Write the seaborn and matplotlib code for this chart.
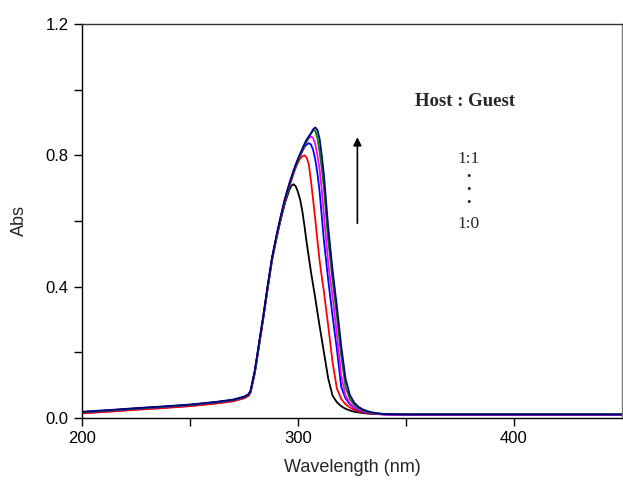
import matplotlib
matplotlib.use("Agg")
import matplotlib.pyplot as plt
from matplotlib.ticker import FixedLocator, FormatStrFormatter
import seaborn as sns
import pandas as pd

# wavelength grid (nm) shared by all spectra
wavelength = [200, 212, 225, 237, 250, 262, 270, 275, 277, 278, 280, 282, 284, 286, 288,
              290, 292, 294, 296, 297, 298, 299, 300, 301, 302, 303, 304, 305, 306, 307, 308,
              309, 310, 311, 312, 314, 316, 318, 320, 322, 324, 326, 328, 330, 333, 336, 340,
              350, 400, 450]

# absorbance, host:guest 1:0 -> 1:1
abs_black = [0.015, 0.020, 0.026, 0.031, 0.037, 0.045, 0.052, 0.061, 0.068, 0.078, 0.140, 0.225,
             0.310, 0.400, 0.485, 0.550, 0.605, 0.655, 0.695, 0.708, 0.712, 0.705, 0.688, 0.665,
             0.630, 0.585, 0.535, 0.490, 0.445, 0.405, 0.365, 0.322, 0.280, 0.240, 0.200, 0.120,
             0.068, 0.048, 0.036, 0.028, 0.023, 0.019, 0.017, 0.015, 0.013, 0.012, 0.011, 0.010,
             0.010, 0.010]
abs_red = [0.014, 0.019, 0.025, 0.030, 0.036, 0.044, 0.051, 0.060, 0.067, 0.077, 0.135, 0.220,
           0.305, 0.395, 0.480, 0.545, 0.605, 0.660, 0.705, 0.725, 0.745, 0.763, 0.778, 0.790,
           0.797, 0.800, 0.793, 0.772, 0.722, 0.665, 0.605, 0.540, 0.480, 0.430, 0.385, 0.280,
           0.170, 0.090, 0.058, 0.042, 0.032, 0.025, 0.020, 0.017, 0.014, 0.012, 0.011, 0.010,
           0.010, 0.010]
abs_blue = [0.017, 0.022, 0.028, 0.033, 0.039, 0.047, 0.054, 0.063, 0.070, 0.080, 0.140, 0.225,
            0.310, 0.400, 0.485, 0.550, 0.610, 0.665, 0.710, 0.730, 0.750, 0.768, 0.785, 0.800,
            0.812, 0.825, 0.833, 0.837, 0.833, 0.817, 0.787, 0.745, 0.690, 0.615, 0.540, 0.420,
            0.310, 0.210, 0.095, 0.060, 0.042, 0.031, 0.024, 0.019, 0.015, 0.013, 0.011, 0.010,
            0.010, 0.010]
abs_magenta = [0.018, 0.023, 0.029, 0.034, 0.040, 0.048, 0.055, 0.064, 0.071, 0.081, 0.140, 0.225,
               0.310, 0.400, 0.485, 0.550, 0.610, 0.665, 0.710, 0.730, 0.750, 0.768, 0.785, 0.800,
               0.815, 0.830, 0.842, 0.852, 0.857, 0.853, 0.834, 0.800, 0.758, 0.695, 0.620, 0.470,
               0.370, 0.255, 0.130, 0.068, 0.045, 0.033, 0.026, 0.021, 0.016, 0.013, 0.011, 0.010,
               0.010, 0.010]
abs_green = [0.018, 0.023, 0.029, 0.034, 0.040, 0.048, 0.055, 0.064, 0.071, 0.081, 0.140, 0.225,
             0.310, 0.400, 0.485, 0.550, 0.610, 0.665, 0.710, 0.730, 0.750, 0.768, 0.785, 0.800,
             0.815, 0.830, 0.843, 0.855, 0.866, 0.876, 0.875, 0.852, 0.812, 0.760, 0.700, 0.540,
             0.420, 0.310, 0.190, 0.095, 0.058, 0.040, 0.030, 0.023, 0.017, 0.014, 0.012, 0.011,
             0.011, 0.011]
abs_navy = [0.019, 0.024, 0.030, 0.035, 0.041, 0.049, 0.056, 0.065, 0.072, 0.082, 0.145, 0.230,
            0.315, 0.405, 0.490, 0.555, 0.615, 0.670, 0.715, 0.735, 0.755, 0.773, 0.790, 0.805,
            0.820, 0.835, 0.848, 0.858, 0.867, 0.879, 0.885, 0.877, 0.850, 0.800, 0.740, 0.580,
            0.450, 0.340, 0.220, 0.120, 0.070, 0.047, 0.034, 0.026, 0.019, 0.015, 0.012, 0.011,
            0.011, 0.011]

series = ["black", "red", "blue", "magenta", "green", "navy"]
values = [abs_black, abs_red, abs_blue, abs_magenta, abs_green, abs_navy]
colors = ["#000000", "#ff0000", "#0000ff", "#ff00ff", "#008000", "#000080"]

rows = []
for name, vals in zip(series, values):
    for w, a in zip(wavelength, vals):
        rows.append({"Wavelength": w, "Abs": a, "curve": name})
df = pd.DataFrame(rows)

sns.set_style("ticks")
plt.rcParams["font.family"] = ["Liberation Sans", "DejaVu Sans"]

fig = plt.figure(figsize=(6.23, 4.80), dpi=100)
ax = fig.add_axes([0.1316, 0.1292, 0.8668, 0.8208])

sns.lineplot(data=df, x="Wavelength", y="Abs", hue="curve", hue_order=series,
             palette=colors, sort=False, legend=False, linewidth=1.3, ax=ax)

ax.set_xlim(200, 450)
ax.set_ylim(0, 1.2)
ax.xaxis.set_major_locator(FixedLocator([200, 300, 400]))
ax.xaxis.set_minor_locator(FixedLocator([250, 350]))
ax.yaxis.set_major_locator(FixedLocator([0.0, 0.4, 0.8, 1.2]))
ax.yaxis.set_minor_locator(FixedLocator([0.2, 0.6, 1.0]))
ax.xaxis.set_major_formatter(FormatStrFormatter("%d"))
ax.yaxis.set_major_formatter(FormatStrFormatter("%.1f"))
ax.tick_params(which="both", direction="out", length=6, width=1, colors="black",
               labelsize=12, top=False, right=False)

for side in ["left", "bottom"]:
    ax.spines[side].set_color("black")
    ax.spines[side].set_linewidth(1.0)
ax.spines["top"].set_color("#333333")
ax.spines["right"].set_color("#777777")
for side in ["top", "right"]:
    ax.spines[side].set_visible(True)
    ax.spines[side].set_linewidth(1.0)

ax.set_xlabel("Wavelength (nm)", fontsize=13, labelpad=9)
ax.set_ylabel("Abs", fontsize=13, labelpad=13)

serif = ["Liberation Serif", "DejaVu Serif"]
ax.text(377.5, 0.963, "Host : Guest", ha="center", va="center", fontsize=13.5,
        fontweight="bold", family=serif)
ax.text(379, 0.788, "1:1", ha="center", va="center", fontsize=12.5, family=serif)
for yd in [0.733, 0.694, 0.655]:
    ax.text(379, yd, "\u2022", ha="center", va="center", fontsize=9, family=serif)
ax.text(379, 0.591, "1:0", ha="center", va="center", fontsize=12.5, family=serif)

ax.annotate("", xy=(327.5, 0.855), xytext=(327.5, 0.593),
            arrowprops=dict(arrowstyle="-|>", color="black", lw=1.2,
                            mutation_scale=12, shrinkA=0, shrinkB=0))

fig.savefig("out.png", dpi=100)
